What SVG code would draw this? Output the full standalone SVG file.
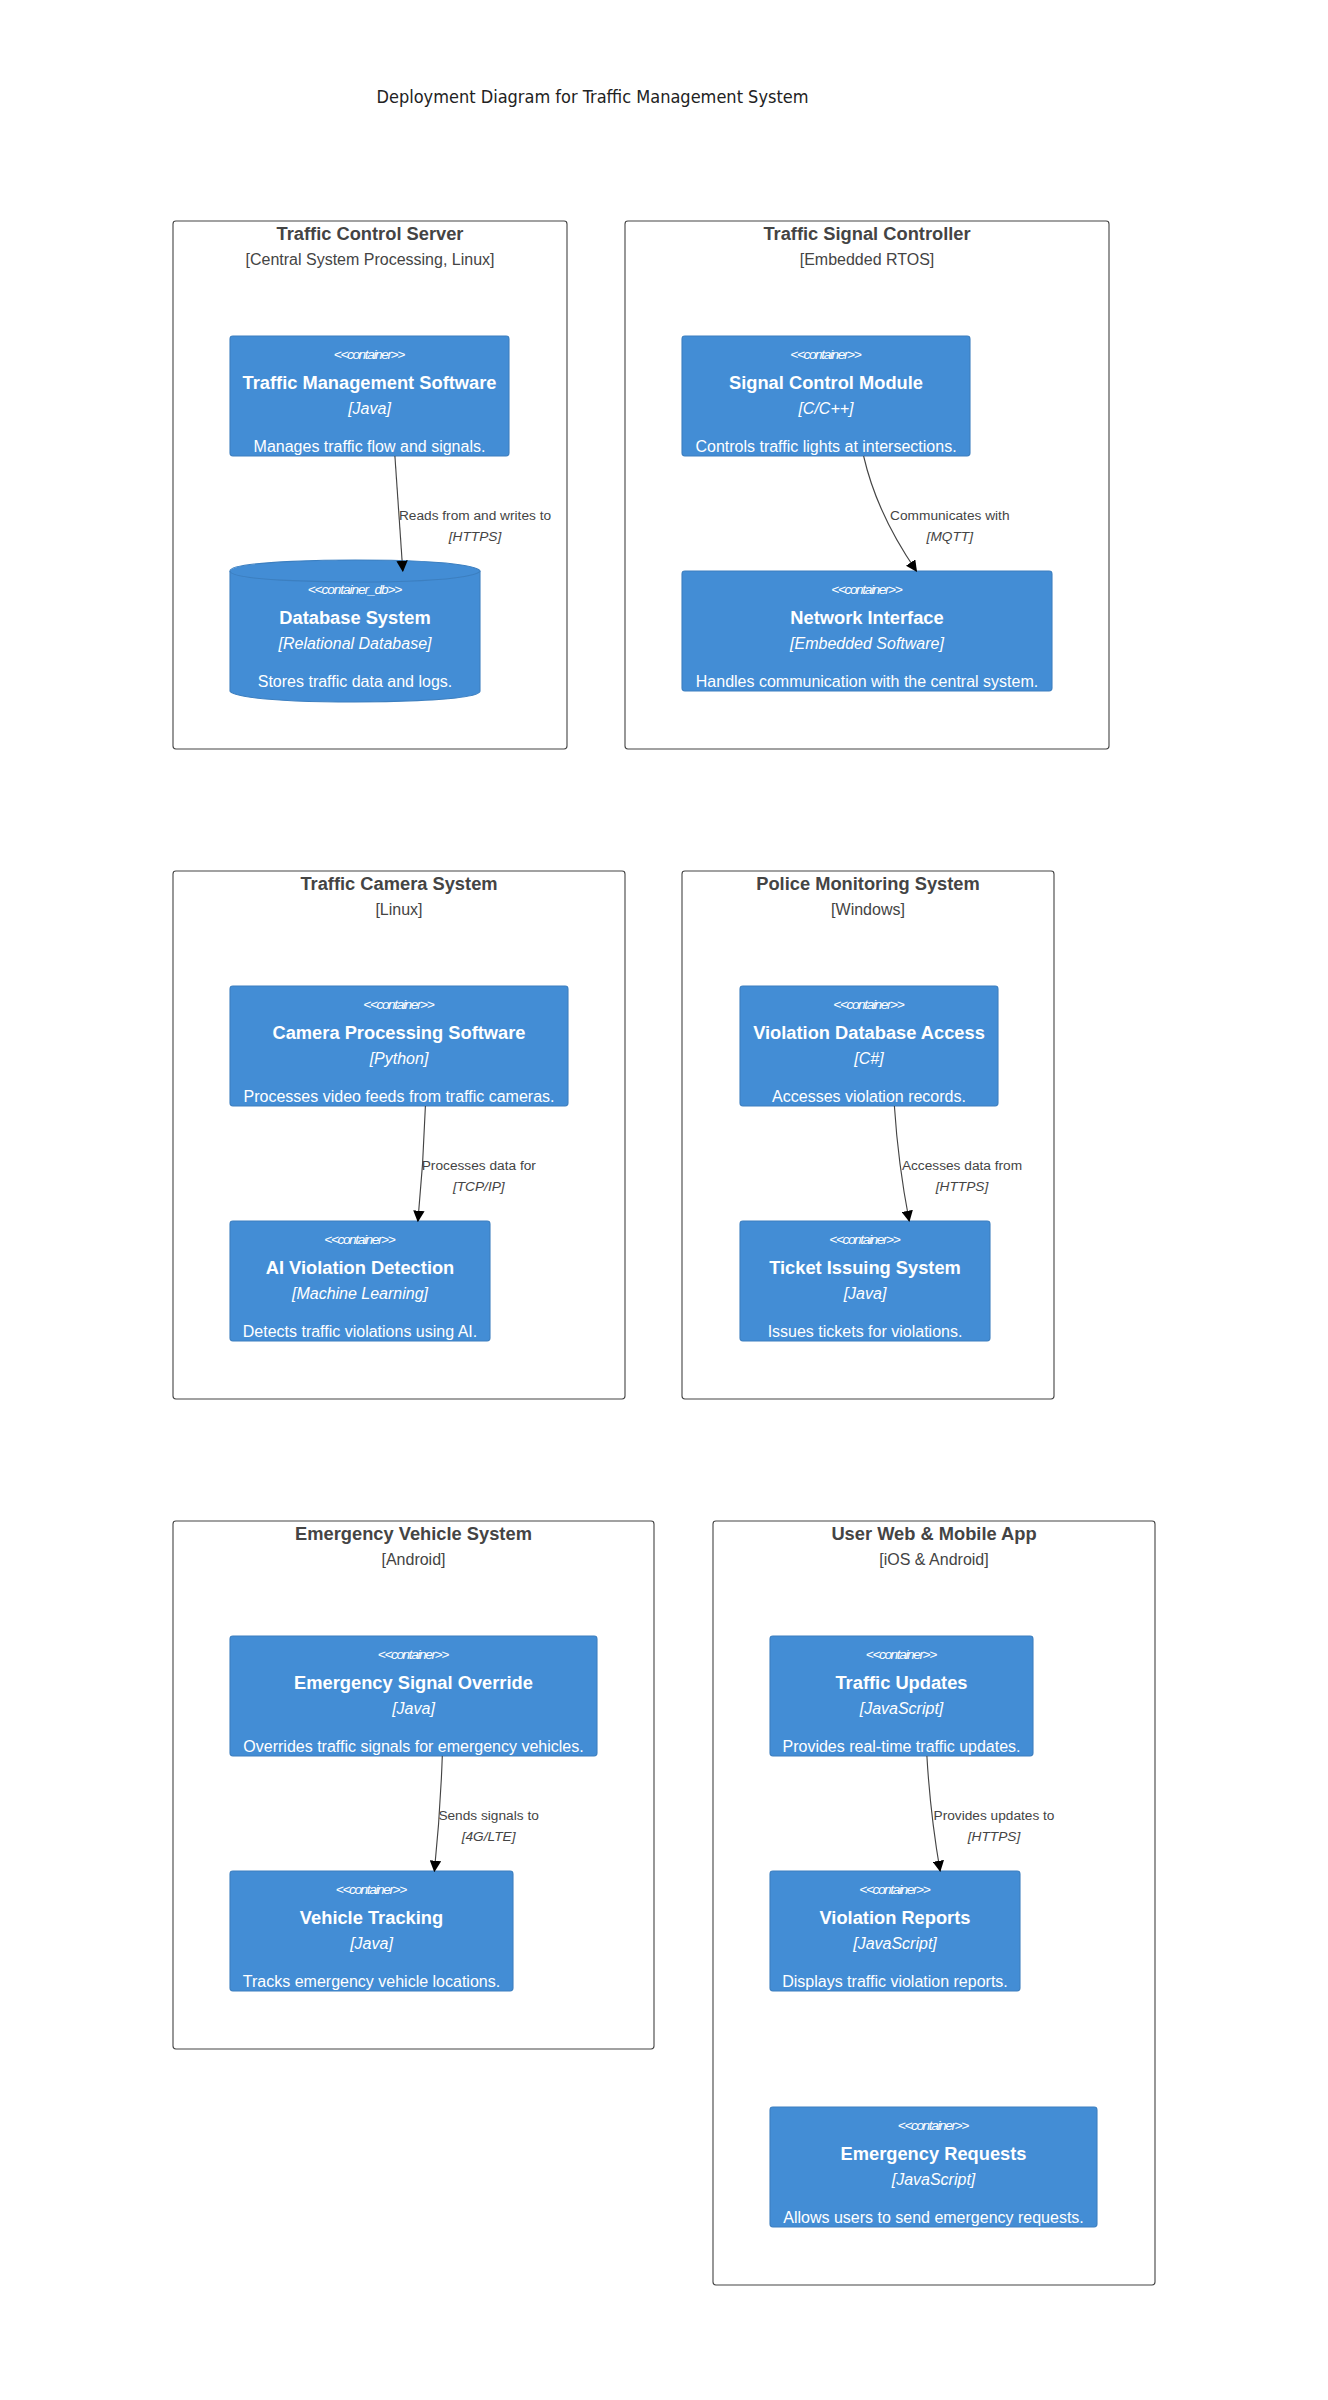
<svg xmlns="http://www.w3.org/2000/svg" width="1328" height="2400" viewBox="0 0 1328 2400">
  <style>
    .bnd rect { fill: none; stroke: #444444; stroke-width: 1.1; }
    .bnd text { fill: #444444; font-family: "Liberation Sans", Arial, sans-serif; text-anchor: middle; }
    .bnd .lbl { font-size: 18.3px; font-weight: bold; }
    .bnd .typ { font-size: 16px; }
    .node rect, .node .shape { fill: #438DD5; stroke: #3C7FC0; stroke-width: 1.1; }
    .node .rim { fill: none; stroke: #3C7FC0; stroke-width: 1.1; }
    .node text { fill: #FFFFFF; font-family: "Liberation Sans", Arial, sans-serif; }
    .node .ty { font-size: 13.7px; font-style: italic; }
    .node .nm { font-size: 18.3px; font-weight: bold; text-anchor: middle; }
    .node .tc { font-size: 16px; font-style: italic; text-anchor: middle; }
    .node .ds { font-size: 16px; text-anchor: middle; }
    .rels line, .rels path { fill: none; stroke: #444444; stroke-width: 1.14; marker-end: url(#arrowhead); }
    .rels text { fill: #444444; font-family: "Liberation Sans", Arial, sans-serif; font-size: 13.7px; text-anchor: middle; }
    .rels .tech { font-style: italic; }
    .title { fill: #222222; font-family: "DejaVu Sans Condensed", "DejaVu Sans", sans-serif; font-stretch: condensed; font-size: 18px; text-anchor: middle; }
  </style>
  <defs>
    <marker id="arrowhead" viewBox="0 0 10 10" refX="9" refY="5" markerUnits="userSpaceOnUse" markerWidth="11.4" markerHeight="11.4" orient="auto">
      <path d="M 0 0 L 10 5 L 0 10 z" fill="#000000"/>
    </marker>
  </defs>

  <rect x="0" y="0" width="1328" height="2400" fill="#FFFFFF"/>

  <text class="title" x="592.5" y="103">Deployment Diagram for Traffic Management System</text>

  <!-- deployment nodes -->
  <g id="b-traffic-control-server" class="bnd">
    <rect x="173" y="221" width="394" height="528" rx="2.9"/>
    <text class="lbl" x="370" y="240">Traffic Control Server</text>
    <text class="typ" x="370" y="265">[Central System Processing, Linux]</text>
  </g>
  <g id="b-traffic-signal-controller" class="bnd">
    <rect x="625" y="221" width="484" height="528" rx="2.9"/>
    <text class="lbl" x="867" y="240">Traffic Signal Controller</text>
    <text class="typ" x="867" y="265">[Embedded RTOS]</text>
  </g>
  <g id="b-traffic-camera-system" class="bnd">
    <rect x="173" y="871" width="452" height="528" rx="2.9"/>
    <text class="lbl" x="399" y="890">Traffic Camera System</text>
    <text class="typ" x="399" y="915">[Linux]</text>
  </g>
  <g id="b-police-monitoring-system" class="bnd">
    <rect x="682" y="871" width="372" height="528" rx="2.9"/>
    <text class="lbl" x="868" y="890">Police Monitoring System</text>
    <text class="typ" x="868" y="915">[Windows]</text>
  </g>
  <g id="b-emergency-vehicle-system" class="bnd">
    <rect x="173" y="1521" width="481" height="528" rx="2.9"/>
    <text class="lbl" x="413.5" y="1540">Emergency Vehicle System</text>
    <text class="typ" x="413.5" y="1565">[Android]</text>
  </g>
  <g id="b-user-web-mobile-app" class="bnd">
    <rect x="713" y="1521" width="442" height="764" rx="2.9"/>
    <text class="lbl" x="934" y="1540">User Web &amp; Mobile App</text>
    <text class="typ" x="934" y="1565">[iOS &amp; Android]</text>
  </g>

  <!-- containers -->
  <g id="traffic-management-software" class="node">
    <rect x="230" y="336" width="279" height="120" rx="2.9"/>
    <text class="ty" x="333.85" y="359" textLength="71.3" lengthAdjust="spacing">&lt;&lt;container&gt;&gt;</text>
    <text class="nm" x="369.5" y="389">Traffic Management Software</text>
    <text class="tc" x="369.5" y="414">[Java]</text>
    <text class="ds" x="369.5" y="452">Manages traffic flow and signals.</text>
  </g>
  <g id="database-system" class="node">
    <path class="shape" d="M230,571 c0,-11 125,-11 125,-11 c125,0 125,11 125,11 l0,120 c0,11 -125,11 -125,11 c-125,0 -125,-11 -125,-11 l0,-120"/>
    <path class="rim" d="M230,571 c0,11 125,11 125,11 c125,0 125,-11 125,-11"/>
    <text class="ty" x="307.65" y="594" textLength="94.7" lengthAdjust="spacing">&lt;&lt;container_db&gt;&gt;</text>
    <text class="nm" x="355" y="624">Database System</text>
    <text class="tc" x="355" y="649">[Relational Database]</text>
    <text class="ds" x="355" y="687">Stores traffic data and logs.</text>
  </g>
  <g id="signal-control-module" class="node">
    <rect x="682" y="336" width="288" height="120" rx="2.9"/>
    <text class="ty" x="790.35" y="359" textLength="71.3" lengthAdjust="spacing">&lt;&lt;container&gt;&gt;</text>
    <text class="nm" x="826" y="389">Signal Control Module</text>
    <text class="tc" x="826" y="414">[C/C++]</text>
    <text class="ds" x="826" y="452">Controls traffic lights at intersections.</text>
  </g>
  <g id="network-interface" class="node">
    <rect x="682" y="571" width="370" height="120" rx="2.9"/>
    <text class="ty" x="831.35" y="594" textLength="71.3" lengthAdjust="spacing">&lt;&lt;container&gt;&gt;</text>
    <text class="nm" x="867" y="624">Network Interface</text>
    <text class="tc" x="867" y="649">[Embedded Software]</text>
    <text class="ds" x="867" y="687">Handles communication with the central system.</text>
  </g>
  <g id="camera-processing-software" class="node">
    <rect x="230" y="986" width="338" height="120" rx="2.9"/>
    <text class="ty" x="363.35" y="1009" textLength="71.3" lengthAdjust="spacing">&lt;&lt;container&gt;&gt;</text>
    <text class="nm" x="399" y="1039">Camera Processing Software</text>
    <text class="tc" x="399" y="1064">[Python]</text>
    <text class="ds" x="399" y="1102">Processes video feeds from traffic cameras.</text>
  </g>
  <g id="ai-violation-detection" class="node">
    <rect x="230" y="1221" width="260" height="120" rx="2.9"/>
    <text class="ty" x="324.35" y="1244" textLength="71.3" lengthAdjust="spacing">&lt;&lt;container&gt;&gt;</text>
    <text class="nm" x="360" y="1274">AI Violation Detection</text>
    <text class="tc" x="360" y="1299">[Machine Learning]</text>
    <text class="ds" x="360" y="1337">Detects traffic violations using AI.</text>
  </g>
  <g id="violation-database-access" class="node">
    <rect x="740" y="986" width="258" height="120" rx="2.9"/>
    <text class="ty" x="833.35" y="1009" textLength="71.3" lengthAdjust="spacing">&lt;&lt;container&gt;&gt;</text>
    <text class="nm" x="869" y="1039">Violation Database Access</text>
    <text class="tc" x="869" y="1064">[C#]</text>
    <text class="ds" x="869" y="1102">Accesses violation records.</text>
  </g>
  <g id="ticket-issuing-system" class="node">
    <rect x="740" y="1221" width="250" height="120" rx="2.9"/>
    <text class="ty" x="829.35" y="1244" textLength="71.3" lengthAdjust="spacing">&lt;&lt;container&gt;&gt;</text>
    <text class="nm" x="865" y="1274">Ticket Issuing System</text>
    <text class="tc" x="865" y="1299">[Java]</text>
    <text class="ds" x="865" y="1337">Issues tickets for violations.</text>
  </g>
  <g id="emergency-signal-override" class="node">
    <rect x="230" y="1636" width="367" height="120" rx="2.9"/>
    <text class="ty" x="377.85" y="1659" textLength="71.3" lengthAdjust="spacing">&lt;&lt;container&gt;&gt;</text>
    <text class="nm" x="413.5" y="1689">Emergency Signal Override</text>
    <text class="tc" x="413.5" y="1714">[Java]</text>
    <text class="ds" x="413.5" y="1752">Overrides traffic signals for emergency vehicles.</text>
  </g>
  <g id="vehicle-tracking" class="node">
    <rect x="230" y="1871" width="283" height="120" rx="2.9"/>
    <text class="ty" x="335.85" y="1894" textLength="71.3" lengthAdjust="spacing">&lt;&lt;container&gt;&gt;</text>
    <text class="nm" x="371.5" y="1924">Vehicle Tracking</text>
    <text class="tc" x="371.5" y="1949">[Java]</text>
    <text class="ds" x="371.5" y="1987">Tracks emergency vehicle locations.</text>
  </g>
  <g id="traffic-updates" class="node">
    <rect x="770" y="1636" width="263" height="120" rx="2.9"/>
    <text class="ty" x="865.85" y="1659" textLength="71.3" lengthAdjust="spacing">&lt;&lt;container&gt;&gt;</text>
    <text class="nm" x="901.5" y="1689">Traffic Updates</text>
    <text class="tc" x="901.5" y="1714">[JavaScript]</text>
    <text class="ds" x="901.5" y="1752">Provides real-time traffic updates.</text>
  </g>
  <g id="violation-reports" class="node">
    <rect x="770" y="1871" width="250" height="120" rx="2.9"/>
    <text class="ty" x="859.35" y="1894" textLength="71.3" lengthAdjust="spacing">&lt;&lt;container&gt;&gt;</text>
    <text class="nm" x="895" y="1924">Violation Reports</text>
    <text class="tc" x="895" y="1949">[JavaScript]</text>
    <text class="ds" x="895" y="1987">Displays traffic violation reports.</text>
  </g>
  <g id="emergency-requests" class="node">
    <rect x="770" y="2107" width="327" height="120" rx="2.9"/>
    <text class="ty" x="897.85" y="2130" textLength="71.3" lengthAdjust="spacing">&lt;&lt;container&gt;&gt;</text>
    <text class="nm" x="933.5" y="2160">Emergency Requests</text>
    <text class="tc" x="933.5" y="2185">[JavaScript]</text>
    <text class="ds" x="933.5" y="2223">Allows users to send emergency requests.</text>
  </g>

  <!-- relationships -->
  <g id="relationships" class="rels">
    <line x1="394.9" y1="456" x2="402.8" y2="571"/>
    <text x="475" y="520">Reads from and writes to</text>
    <text class="tech" x="475" y="541">[HTTPS]</text>

    <path d="M863.6,456 Q876.8,513.5 916.4,571"/>
    <text x="949.8" y="520">Communicates with</text>
    <text class="tech" x="949.8" y="541">[MQTT]</text>

    <path d="M425.4,1106 Q423.5,1163.5 417.9,1221"/>
    <text x="478.8" y="1170">Processes data for</text>
    <text class="tech" x="478.8" y="1191">[TCP/IP]</text>

    <path d="M894.4,1106 Q898.1,1163.5 909.2,1221"/>
    <text x="962" y="1170">Accesses data from</text>
    <text class="tech" x="962" y="1191">[HTTPS]</text>

    <path d="M442.3,1756 Q440.3,1813.5 434.4,1871"/>
    <text x="488.6" y="1820">Sends signals to</text>
    <text class="tech" x="488.6" y="1841">[4G/LTE]</text>

    <path d="M926.9,1756 Q930.2,1813.5 940.1,1871"/>
    <text x="994" y="1820">Provides updates to</text>
    <text class="tech" x="994" y="1841">[HTTPS]</text>
  </g>
</svg>
